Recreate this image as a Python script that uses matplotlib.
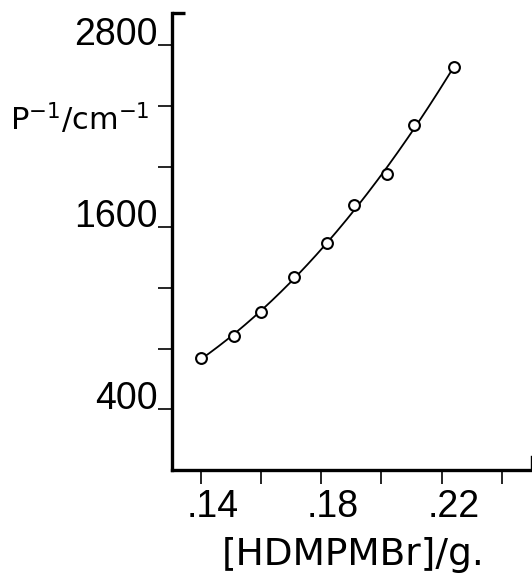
import numpy as np
import matplotlib
matplotlib.use("Agg")
import matplotlib.pyplot as plt
from matplotlib import transforms

# Data
conc = [0.140, 0.151, 0.160, 0.171, 0.182, 0.191, 0.202, 0.211, 0.224]
inv_p = [736, 883, 1043, 1269, 1497, 1744, 1950, 2273, 2655]

y_ticks = [400, 800, 1200, 1600, 2000, 2400, 2800]
y_labels = ["400", "1600", "2800"]
y_label_vals = [400, 1600, 2800]
x_ticks = [0.14, 0.16, 0.18, 0.20, 0.22, 0.24]
x_label_vals = [0.14, 0.18, 0.22]
x_labels = [".14", ".18", ".22"]

plt.rcParams['mathtext.default'] = 'regular'
num_font = ['Liberation Sans', 'DejaVu Sans']
txt_font = ['DejaVu Sans']

fig = plt.figure(figsize=(5.32, 5.77), dpi=100)
ax = fig.add_axes([172/532, 1-470/577, (531-172)/532, (470-13)/577])

ax.set_xlim(0.1305, 0.2497)
ax.set_ylim(0, 3012)

# smooth curve through the points
coef = np.polyfit(conc, inv_p, 3)
xs = np.linspace(conc[0], conc[-1], 200)
ax.plot(xs, np.polyval(coef, xs), color='black', lw=1.3, zorder=2)
ax.plot(conc, inv_p, linestyle='none', marker='o', ms=7.8, mfc='white',
        mec='black', mew=1.5, zorder=3)

for s in ['top', 'right']:
    ax.spines[s].set_visible(False)
for s in ['left', 'bottom']:
    ax.spines[s].set_linewidth(2.4)

ax.set_yticks(y_ticks)
ax.set_yticklabels([])
ax.set_xticks(x_ticks)
ax.set_xticklabels([])
ax.tick_params(axis='y', direction='out', length=10, width=1.2)
ax.tick_params(axis='x', direction='out', length=10, width=1.2)

# top hook and right end cap
ax.plot([0, 0.035], [1, 1], transform=ax.transAxes, color='black', lw=2.4,
        clip_on=False, solid_capstyle='butt')
ax.plot([1, 1], [0, 0.03], transform=ax.transAxes, color='black', lw=1.0,
        clip_on=False)

# y tick labels: right-aligned, baseline at tick
ytr = transforms.blended_transform_factory(ax.transAxes, ax.transData) + \
    transforms.ScaledTranslation(-14/100, 0, fig.dpi_scale_trans)
for v, t in zip(y_label_vals, y_labels):
    ax.text(0, v, t, transform=ytr, ha='right', va='baseline',
            fontsize=27, family=num_font)

# x tick labels
xtr = transforms.blended_transform_factory(ax.transData, ax.transAxes) + \
    transforms.ScaledTranslation(-14/100, -47/100, fig.dpi_scale_trans)
for v, t in zip(x_label_vals, x_labels):
    ax.text(v, 0, t, transform=xtr, ha='left', va='baseline',
            fontsize=27, family=num_font)

# axis titles
fig.text(353/532, 1-565/577, "[HDMPMBr]/g.", ha='center', va='baseline',
         fontsize=27, family=txt_font)
fig.text(10/532, 1-130/577, r"P$^{-1}$/cm$^{-1}$", ha='left', va='baseline',
         fontsize=22, family=txt_font)

fig.savefig("out.png", dpi=100)
